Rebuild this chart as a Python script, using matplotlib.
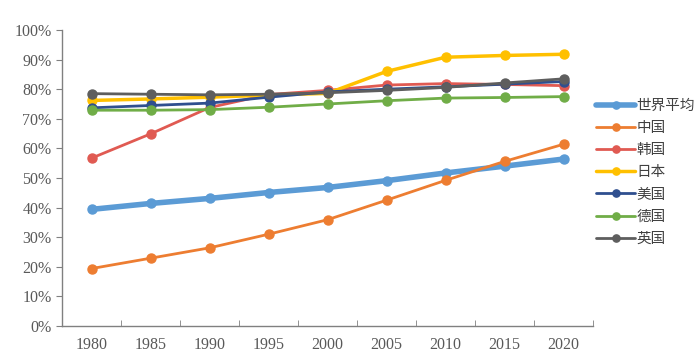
import matplotlib
matplotlib.use("Agg")
import matplotlib.pyplot as plt
import numpy as np

plt.rcParams['font.family'] = ['Liberation Serif', 'Noto Sans CJK SC', 'DejaVu Sans']

years = ['1980', '1985', '1990', '1995', '2000', '2005', '2010', '2015', '2020']

world = [39.4, 41.4, 43.1, 45.1, 46.8, 49.1, 51.7, 54.0, 56.4]
china = [19.4, 22.9, 26.4, 31.0, 35.9, 42.5, 49.2, 55.6, 61.4]
korea = [56.7, 64.9, 73.8, 78.2, 79.6, 81.4, 81.9, 81.6, 81.2]
japan = [76.2, 76.7, 77.3, 78.0, 78.6, 86.0, 90.8, 91.4, 91.8]
usa = [73.7, 74.5, 75.3, 77.3, 79.1, 80.0, 80.8, 81.7, 82.6]
germany = [72.9, 72.9, 73.1, 73.9, 75.0, 76.1, 77.0, 77.2, 77.5]
uk = [78.5, 78.3, 78.1, 78.3, 78.8, 79.6, 80.6, 82.1, 83.5]

labels = ['世界平均', '中国', '韩国', '日本', '美国', '德国', '英国']
series = [world, china, korea, japan, usa, germany, uk]
colors = ['#5B9BD5', '#ED7D31', '#E05A52', '#FFC000', '#2F4F8F', '#70AD47', '#5E5E5E']
widths = [4, 2, 2, 2.5, 2, 2, 2]

fig = plt.figure(figsize=(6.97, 3.63), dpi=100)
ax = fig.add_axes([62 / 697, 37 / 363, 531 / 697, 296 / 363])

x = np.arange(len(years))
for vals, lab, c, w in zip(series, labels, colors, widths):
    ax.plot(x, np.array(vals) / 100, color=c, lw=w, marker='o', ms=6.5,
            label=lab, solid_capstyle='round')

ax.set_xlim(-0.5, len(years) - 0.5)
ax.set_ylim(0, 1.0)
yt = np.arange(0, 1.01, 0.1)
ax.set_yticks(yt)
ax.set_yticklabels([f'{int(round(v * 100))}%' for v in yt])
ax.set_xticks(x)
ax.set_xticklabels(years)
ax.set_xticks(np.arange(-0.5, len(years)), minor=True)
ax.tick_params(axis='x', which='major', length=0, pad=8, labelsize=11.5, labelcolor='#595959')
ax.tick_params(axis='x', which='minor', direction='in', length=4, color='#808080')
ax.tick_params(axis='y', length=4, color='#808080', labelsize=11.5, labelcolor='#595959')

for s in ['top', 'right']:
    ax.spines[s].set_visible(False)
for s in ['left', 'bottom']:
    ax.spines[s].set_color('#808080')
    ax.spines[s].set_linewidth(1)

leg = fig.legend(loc='upper left', bbox_to_anchor=(590 / 697, 1 - 93 / 363),
                 frameon=False, handlelength=2.7, handletextpad=0.1,
                 labelspacing=0.56, markerscale=0.8,
                 prop={'family': 'Noto Sans CJK SC', 'size': 10.5},
                 borderaxespad=0)
for t in leg.get_texts():
    t.set_color('#404040')

fig.savefig('out.png', dpi=100)
